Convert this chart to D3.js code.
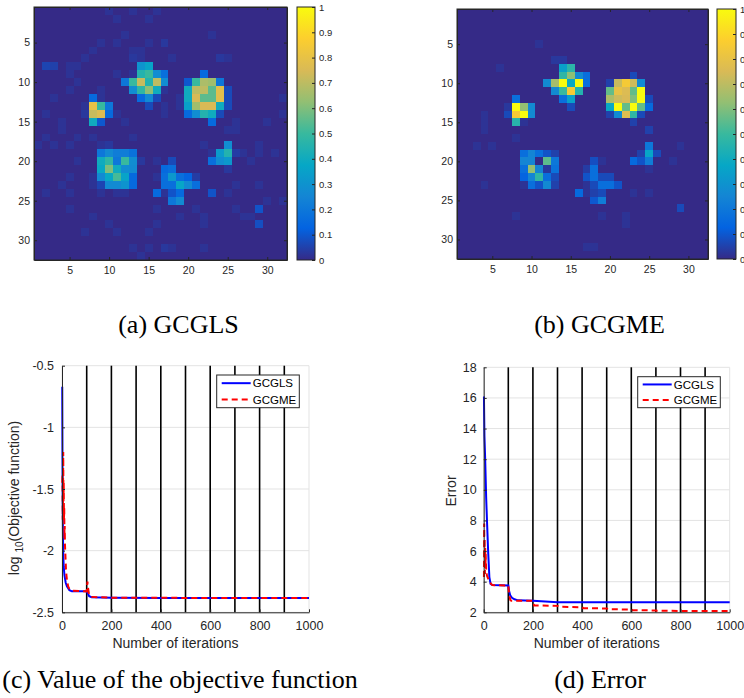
<!DOCTYPE html>
<html><head><meta charset="utf-8">
<script src="https://cdn.jsdelivr.net/npm/d3@7"></script>
<style>body{margin:0;background:#fff} svg{display:block}</style>
</head><body>
<svg id="chart" width="744" height="698"></svg>
<script>
// ---------------- DATA ----------------
const f = 0.02;           // faint noise level
const gridSize = 32;
// [row, col, value] ; every other cell is 0
const cellsA = [
 [1,10,f],[1,13,f],[1,16,f],
 [2,11,f],[2,15,f],
 [4,12,f],[4,23,f],
 [5,9,f],[5,11,f],[5,15,f],[5,17,0.03],
 [6,8,f],[6,13,f],[6,14,f],
 [7,7,f],[7,13,0.03],[7,14,f],[7,18,f],[7,24,0.03],[7,25,f],
 [8,2,0.06],[8,3,0.05],[8,5,f],[8,6,f],[8,14,0.3],[8,15,0.36],
 [9,5,f],[9,11,f],[9,13,f],[9,14,0.45],[9,15,0.5],[9,16,0.28],[9,17,0.17],[9,22,0.15],
 [10,6,f],[10,12,0.2],[10,13,0.5],[10,14,0.72],[10,15,0.45],[10,16,0.7],[10,17,0.28],[10,20,0.1],[10,21,0.5],[10,22,0.67],[10,23,0.65],[10,24,0.2],
 [11,5,f],[11,9,f],[11,13,0.28],[11,14,0.48],[11,15,0.62],[11,16,0.4],[11,17,f],[11,20,0.4],[11,21,0.7],[11,22,0.7],[11,23,0.55],[11,24,0.78],[11,25,0.07],
 [12,3,f],[12,8,0.15],[12,9,f],[12,14,0.15],[12,15,0.27],[12,16,0.07],[12,19,f],[12,20,0.4],[12,21,0.75],[12,22,0.55],[12,23,0.55],[12,24,0.78],[12,25,0.07],[12,32,f],
 [13,7,f],[13,8,0.8],[13,9,0.5],[13,10,0.2],[13,15,0.07],[13,17,f],[13,19,f],[13,20,0.35],[13,21,0.65],[13,22,0.75],[13,23,0.75],[13,24,0.4],[13,25,0.07],
 [14,2,f],[14,7,0.03],[14,8,0.72],[14,9,0.76],[14,10,0.15],[14,11,f],[14,17,f],[14,20,0.15],[14,21,0.28],[14,22,0.45],[14,23,0.4],[14,24,0.07],[14,32,f],
 [15,4,f],[15,8,0.4],[15,9,0.1],[15,12,f],[15,23,0.15],[15,26,f],[15,30,f],
 [16,4,f],[16,25,f],[16,26,f],
 [17,2,f],[17,6,f],[17,8,f],[17,13,f],
 [18,1,f],[18,3,f],[18,5,f],[18,9,f],[18,10,0.03],[18,22,f],[18,25,0.28],[18,29,f],
 [19,9,0.2],[19,10,0.27],[19,11,0.22],[19,12,0.22],[19,13,0.18],[19,23,f],[19,24,0.33],[19,25,0.45],[19,26,0.04],[19,27,f],[19,29,f],[19,31,f],
 [20,6,f],[20,9,0.4],[20,10,0.48],[20,11,0.2],[20,12,0.5],[20,13,0.28],[20,14,0.03],[20,16,f],[20,18,0.07],[20,23,0.17],[20,24,0.28],[20,25,0.32],[20,28,f],
 [21,9,0.38],[21,10,0.6],[21,11,0.4],[21,12,0.28],[21,13,0.27],[21,17,0.15],[21,18,0.17],[21,25,0.03],
 [22,5,f],[22,8,f],[22,9,0.27],[22,10,0.38],[22,11,0.52],[22,12,0.36],[22,13,0.15],[22,16,f],[22,17,0.17],[22,18,0.32],[22,19,0.17],[22,20,0.13],[22,21,0.04],
 [23,4,f],[23,8,f],[23,9,0.06],[23,10,0.27],[23,11,0.27],[23,12,0.3],[23,13,0.15],[23,17,0.17],[23,18,0.17],[23,19,0.37],[23,20,0.27],[23,21,0.17],[23,26,f],[23,29,f],
 [24,2,f],[24,5,f],[24,9,f],[24,11,f],[24,12,f],[24,16,0.15],[24,17,f],[24,18,0.09],[24,19,0.15],[24,23,0.09],[24,25,f],
 [25,18,0.2],[25,19,0.27],[25,30,f],[25,32,f],
 [26,5,f],[26,16,f],[26,21,f],[26,26,f],[26,29,0.09],
 [27,8,f],[27,19,f],[27,22,f],[27,27,f],[27,28,f],
 [28,10,f],[28,16,f],[28,22,f],[28,29,0.08],
 [29,7,f],[29,11,f],[29,15,f],
 [31,13,f],[31,15,f],[31,17,0.03],[31,18,f],[31,22,f],
 [32,14,f]
];
const cellsB = [
 [5,11,f],
 [7,13,0.03],[7,14,0.03],
 [8,6,f],[8,14,0.35],[8,15,0.47],
 [9,14,0.48],[9,15,0.62],[9,16,0.27],[9,17,0.17],[9,23,0.07],
 [10,12,0.27],[10,13,0.66],[10,14,1],[10,15,0.38],[10,16,1],[10,17,0.17],[10,20,0.05],[10,21,0.72],[10,22,0.85],[10,23,0.73],[10,24,0.27],
 [11,13,0.27],[11,14,0.5],[11,15,0.85],[11,16,0.45],[11,20,0.56],[11,21,0.8],[11,22,0.76],[11,23,0.56],[11,24,1],
 [12,8,0.17],[12,14,0.17],[12,15,0.35],[12,20,0.67],[12,21,0.73],[12,22,0.75],[12,23,0.6],[12,24,1],[12,25,0.07],
 [13,7,0.03],[13,8,1],[13,9,0.63],[13,10,0.27],[13,15,0.07],[13,20,0.38],[13,21,1],[13,22,0.56],[13,23,1],[13,24,0.56],[13,25,0.15],
 [14,4,f],[14,7,0.07],[14,8,0.85],[14,9,1],[14,10,0.27],[14,20,0.05],[14,21,0.27],[14,22,0.77],[14,23,0.48],[14,24,0.07],
 [15,4,f],[15,8,0.46],[15,9,f],[15,23,0.05],
 [16,4,f],[16,25,0.05],
 [17,8,f],
 [18,3,f],[18,5,f],[18,25,0.2],[18,29,f],
 [19,9,0.17],[19,10,0.25],[19,11,0.17],[19,12,0.09],[19,13,0.05],[19,24,0.05],[19,25,0.37],[19,26,0.07],
 [20,9,0.25],[20,10,0.25],[20,12,0.55],[20,13,0.2],[20,18,0.08],[20,19,f],[20,23,0.15],[20,24,0.09],[20,25,0.22],[20,28,f],
 [21,9,0.17],[21,10,0.63],[21,11,0.25],[21,12,0.03],[21,13,0.18],[21,17,0.04],[21,18,0.17],[21,25,f],
 [22,9,0.13],[22,10,0.25],[22,11,0.48],[22,12,0.17],[22,13,0.07],[22,17,0.09],[22,18,0.17],[22,19,0.07],[22,20,0.07],
 [23,4,f],[23,9,f],[23,10,0.17],[23,11,0.09],[23,12,0.27],[23,13,0.05],[23,17,f],[23,18,0.07],[23,19,0.17],[23,20,0.17],[23,21,0.09],
 [24,16,0.15],[24,17,f],[24,18,0.05],[24,19,0.07],[24,23,f],[24,25,f],
 [25,18,0.1],[25,19,0.22],
 [26,29,0.07],
 [27,8,f],[27,19,f],[27,22,f],
 [28,22,f],
 [31,17,f],[31,18,f]
];
const heatTicks = [5, 10, 15, 20, 25, 30];
const colorbarTicks = [0, 0.1, 0.2, 0.3, 0.4, 0.5, 0.6, 0.7, 0.8, 0.9, 1];
const parulaStops = ["#352a87","#0363e1","#1485d4","#06a7c6","#38b99e","#92bf73","#d9ba56","#fcce2e","#f9fb0e"];

// [iteration, value]
const objGCGLS = [[1,-0.67],[2,-1.25],[3,-1.65],[4,-1.9],[5,-2.03],[7,-2.13],[10,-2.2],[15,-2.26],[20,-2.29],[30,-2.32],[40,-2.33],[100,-2.33],[103,-2.34],[110,-2.37],[120,-2.378],[200,-2.382],[400,-2.385],[1000,-2.385]];
const objGCGME = [[1,-1.45],[2,-1.38],[3,-1.75],[4,-1.55],[5,-1.2],[6,-1.6],[7,-1.45],[8,-1.75],[9,-1.65],[10,-1.9],[11,-1.8],[12,-1.95],[14,-2.05],[16,-2.15],[18,-2.2],[20,-2.24],[25,-2.29],[30,-2.31],[40,-2.325],[100,-2.33],[103,-2.25],[106,-2.31],[110,-2.36],[120,-2.375],[200,-2.382],[1000,-2.385]];
const errGCGLS = [[1,16.1],[3,13.5],[6,12],[10,9.5],[14,7.7],[18,6],[23,4.3],[28,3.85],[35,3.78],[100,3.75],[103,3.4],[108,3.1],[115,2.95],[125,2.85],[140,2.78],[200,2.75],[250,2.7],[300,2.65],[1000,2.65]];
const errGCGME = [[1,4.3],[2,7.8],[3,5.5],[4,6.8],[5,4.5],[6,6.2],[7,5],[8,5.8],[10,4.8],[13,4.4],[18,4.2],[25,4],[30,3.85],[35,3.78],[100,3.75],[103,3.2],[108,2.8],[112,2.75],[200,2.75],[205,2.45],[300,2.42],[305,2.36],[400,2.33],[405,2.27],[500,2.25],[505,2.2],[600,2.18],[605,2.14],[700,2.12],[705,2.1],[800,2.09],[1000,2.08]];
const iterTicks = [0, 200, 400, 600, 800, 1000];
const restartIters = [100, 200, 300, 400, 500, 600, 700, 800, 900];
const objTicks = [-2.5, -2, -1.5, -1, -0.5];
const errTicks = [2, 4, 6, 8, 10, 12, 14, 16, 18];
const seriesNames = ["GCGLS", "GCGME"];
const captions = ["(a) GCGLS", "(b) GCGME", "(c) Value of the objective function", "(d) Error"];

// ---------------- DRAWING ----------------
const svg = d3.select("#chart");
const FONT = "'Liberation Sans', Arial, Helvetica, sans-serif";
const TXT = "#262626";
const defs = svg.append("defs");
const color = d3.scaleLinear()
  .domain(parulaStops.map((_, i) => i / (parulaStops.length - 1)))
  .range(parulaStops).interpolate(d3.interpolateRgb).clamp(true);

function styleAxis(sel, size) {
  sel.attr("font-family", FONT).attr("font-size", size);
  sel.selectAll("text").attr("fill", TXT);
  sel.selectAll("line").attr("stroke", TXT);
  sel.selectAll("path").attr("stroke", TXT);
}

function drawHeatmap(cells, L, id) {
  const g = svg.append("g");
  const x = d3.scaleLinear().domain([0.5, gridSize + 0.5]).range([L.x0, L.x1]);
  const y = d3.scaleLinear().domain([0.5, gridSize + 0.5]).range([L.y0, L.y1]);
  const m = new Map(cells.map(d => [(d[0] - 1) * gridSize + d[1] - 1, d[2]]));
  const all = d3.range(gridSize * gridSize).map(i => ({
    r: Math.floor(i / gridSize) + 1, c: i % gridSize + 1, v: m.get(i) || 0 }));
  defs.append("clipPath").attr("id", "clip" + id).append("rect")
    .attr("x", L.x0).attr("y", L.y0).attr("width", L.x1 - L.x0).attr("height", L.y1 - L.y0);
  g.append("g").attr("clip-path", `url(#clip${id})`).attr("shape-rendering", "crispEdges")
    .selectAll("rect").data(all).join("rect")
    .attr("x", d => x(d.c - 0.5)).attr("y", d => y(d.r - 0.5))
    .attr("width", x(1.5) - x(0.5) + 0.6).attr("height", y(1.5) - y(0.5) + 0.6)
    .attr("fill", d => color(d.v));

  const aL = g.append("g").attr("transform", `translate(${L.x0},0)`)
    .call(d3.axisLeft(y).tickValues(heatTicks).tickSize(-3).tickSizeOuter(0).tickPadding(4));
  const aB = g.append("g").attr("transform", `translate(0,${L.y1})`)
    .call(d3.axisBottom(x).tickValues(heatTicks).tickSize(-3).tickSizeOuter(0).tickPadding(7));
  const aT = g.append("g").attr("transform", `translate(0,${L.y0})`)
    .call(d3.axisTop(x).tickValues(heatTicks).tickSize(-3).tickSizeOuter(0).tickFormat(""));
  const aR = g.append("g").attr("transform", `translate(${L.x1},0)`)
    .call(d3.axisRight(y).tickValues(heatTicks).tickSize(-3).tickSizeOuter(0).tickFormat(""));
  [aL, aB, aT, aR].forEach(a => styleAxis(a, 10.5));
  g.append("rect").attr("x", L.x0).attr("y", L.y0).attr("width", L.x1 - L.x0).attr("height", L.y1 - L.y0)
    .attr("fill", "none").attr("stroke", TXT).attr("stroke-width", 1);

  // colorbar
  const cy = d3.scaleLinear().domain([0, 1]).range([L.y1, L.y0]);
  const grad = defs.append("linearGradient").attr("id", "grad" + id)
    .attr("x1", 0).attr("y1", 1).attr("x2", 0).attr("y2", 0);
  grad.selectAll("stop").data(parulaStops).join("stop")
    .attr("offset", (d, i) => i / (parulaStops.length - 1)).attr("stop-color", d => d);
  g.append("rect").attr("x", L.cx0).attr("y", L.y0).attr("width", L.cx1 - L.cx0).attr("height", L.y1 - L.y0)
    .attr("fill", `url(#grad${id})`).attr("stroke", TXT).attr("stroke-width", 1);
  const aC = g.append("g").attr("transform", `translate(${L.cx1},0)`)
    .call(d3.axisRight(cy).tickValues(colorbarTicks).tickSize(-3).tickSizeOuter(0).tickPadding(4).tickFormat(d => String(d)));
  styleAxis(aC, 9.5);
  aC.select("path").remove();
}

function drawLines(L, yDomain, yTicks, series, yLabelFn, yPad, legendBox) {
  const g = svg.append("g");
  const x = d3.scaleLinear().domain([0, 1000]).range([L.x0, L.x1]);
  const y = d3.scaleLinear().domain(yDomain).range([L.y1, L.y0]);
  g.append("g").selectAll("line").data(yTicks).join("line")
    .attr("x1", L.x0).attr("x2", L.x1).attr("y1", d => y(d)).attr("y2", d => y(d))
    .attr("stroke", "#e3e3e3").attr("stroke-width", 1);
  g.append("g").selectAll("line").data(iterTicks).join("line")
    .attr("x1", d => x(d)).attr("x2", d => x(d)).attr("y1", L.y0).attr("y2", L.y1)
    .attr("stroke", "#e3e3e3").attr("stroke-width", 1);
  g.append("g").selectAll("line").data(restartIters).join("line")
    .attr("x1", d => x(d)).attr("x2", d => x(d)).attr("y1", L.y0).attr("y2", L.y1)
    .attr("stroke", "#000").attr("stroke-width", 1.6);
  const line = d3.line().x(d => x(d[0])).y(d => y(d[1]));
  series.forEach(s => {
    g.append("path").datum(s.data).attr("d", line).attr("fill", "none")
      .attr("stroke", s.color).attr("stroke-width", 2)
      .attr("stroke-dasharray", s.dash || null);
  });
  const aL = g.append("g").attr("transform", `translate(${L.x0},0)`)
    .call(d3.axisLeft(y).tickValues(yTicks).tickSize(-3).tickSizeOuter(0).tickPadding(yPad).tickFormat(d => String(d)));
  const aB = g.append("g").attr("transform", `translate(0,${L.y1})`)
    .call(d3.axisBottom(x).tickValues(iterTicks).tickSize(-3).tickSizeOuter(0).tickPadding(9).tickFormat(d => String(d)));
  styleAxis(aL, 12.5); styleAxis(aB, 12.5);
  g.append("text").attr("x", (L.x0 + L.x1) / 2 - 10).attr("y", L.y1 + 36)
    .attr("text-anchor", "middle").attr("font-family", FONT).attr("font-size", 14).attr("fill", TXT)
    .text("Number of iterations");
  yLabelFn(g);
  // legend
  const lg = g.append("g");
  lg.append("rect").attr("x", legendBox.x0).attr("y", legendBox.y0)
    .attr("width", legendBox.x1 - legendBox.x0).attr("height", legendBox.y1 - legendBox.y0)
    .attr("fill", "#fff").attr("stroke", TXT).attr("stroke-width", 1);
  const rowH = (legendBox.y1 - legendBox.y0) / 2;
  series.forEach((s, i) => {
    const yy = legendBox.y0 + rowH * (i + 0.5);
    lg.append("line").attr("x1", legendBox.x0 + 5).attr("x2", legendBox.x0 + 34)
      .attr("y1", yy).attr("y2", yy).attr("stroke", s.color).attr("stroke-width", 2)
      .attr("stroke-dasharray", s.dash || null);
    lg.append("text").attr("x", legendBox.x0 + 36).attr("y", yy).attr("dy", "0.36em")
      .attr("font-family", FONT).attr("font-size", 11.5).attr("fill", "#000").text(s.name);
  });
}

drawHeatmap(cellsA, {x0: 34, x1: 287, y0: 7, y1: 260, cx0: 297, cx1: 315}, "A");
drawHeatmap(cellsB, {x0: 457, x1: 708, y0: 9, y1: 259, cx0: 717, cx1: 736}, "B");

drawLines({x0: 62, x1: 309, y0: 365.7, y1: 612.3}, [-2.5, -0.5], objTicks,
  [{name: seriesNames[0], data: objGCGLS, color: "#0000ff"},
   {name: seriesNames[1], data: objGCGME, color: "#ff0000", dash: "6,4"}],
  g => {
    const t = g.append("text").attr("transform", "translate(19,498) rotate(-90)")
      .attr("text-anchor", "middle").attr("font-family", FONT).attr("font-size", 14).attr("fill", TXT);
    t.append("tspan").text("log ");
    t.append("tspan").attr("dy", 4).attr("font-size", 10).text("10");
    t.append("tspan").attr("dy", -4).text("(Objective function)");
  }, 8, {x0: 216.7, x1: 299.3, y0: 375, y1: 407.7});

drawLines({x0: 483.7, x1: 729.7, y0: 367.3, y1: 612.3}, [2, 18], errTicks,
  [{name: seriesNames[0], data: errGCGLS, color: "#0000ff"},
   {name: seriesNames[1], data: errGCGME, color: "#ff0000", dash: "6,4"}],
  g => {
    g.append("text").attr("transform", "translate(456,491) rotate(-90)")
      .attr("text-anchor", "middle").attr("font-family", FONT).attr("font-size", 14).attr("fill", TXT)
      .text("Error");
  }, 7, {x0: 637.7, x1: 720.3, y0: 376.7, y1: 407.7});

// captions
const capPos = [[178.5, 333], [599.5, 333], [180, 688], [600, 688]];
svg.append("g").selectAll("text").data(captions).join("text")
  .attr("x", (d, i) => capPos[i][0]).attr("y", (d, i) => capPos[i][1])
  .attr("text-anchor", "middle").attr("font-family", "'Liberation Serif', 'Times New Roman', serif")
  .attr("font-size", 26).attr("fill", "#000").text(d => d);
</script>
</body></html>
